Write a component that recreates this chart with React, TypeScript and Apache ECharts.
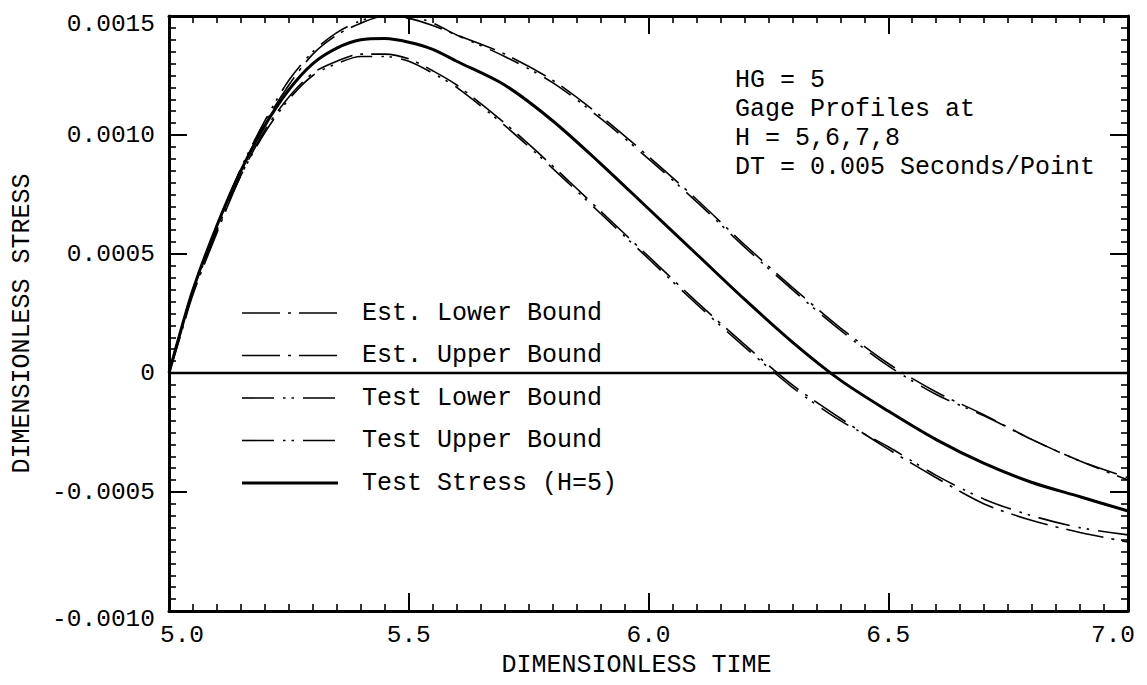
import React, { useEffect, useRef } from "react";
import * as echarts from "echarts";

const FONT = "'Liberation Mono', 'DejaVu Sans Mono', monospace";

// Dimensionless time sample points
const time = [
  5.0, 5.02, 5.05, 5.1, 5.15, 5.2, 5.25, 5.3, 5.35, 5.4, 5.45, 5.5, 5.55, 5.6,
  5.7, 5.8, 5.9, 6.0, 6.1, 6.2, 6.3, 6.4, 6.5, 6.6, 6.7, 6.8, 6.9, 7.0,
];

const estLowerBound = [
  0, 0.00013, 0.00033, 0.00059, 0.00083, 0.00102, 0.00116, 0.00126, 0.00131,
  0.00134, 0.00134, 0.00132, 0.00127, 0.00121, 0.00105, 0.00087, 0.00068,
  0.00049, 0.0003, 0.00012, -0.00005, -0.00019, -0.00032, -0.00044, -0.00055,
  -0.00062, -0.00067, -0.00071,
];

const estUpperBound = [
  0, 0.00014, 0.00034, 0.00061, 0.00085, 0.00105, 0.00121, 0.00134, 0.00142,
  0.00147, 0.0015, 0.00149, 0.00146, 0.00142, 0.00134, 0.00123, 0.00108,
  0.00091, 0.00073, 0.00054, 0.00036, 0.00019, 0.00004, -0.00008, -0.000176,
  -0.00028, -0.00037, -0.00045,
];

const testLowerBound = [
  0, 0.00014, 0.00034, 0.0006, 0.00083, 0.00101, 0.00115, 0.00125, 0.0013,
  0.00133, 0.00133, 0.00131, 0.00126, 0.0012, 0.00104, 0.00086, 0.00067,
  0.00048, 0.00029, 0.00011, -0.00006, -0.0002, -0.00031, -0.00043, -0.00053,
  -0.0006, -0.00065, -0.00068,
];

const testUpperBound = [
  0, 0.00015, 0.00035, 0.00062, 0.00086, 0.00106, 0.00123, 0.00135, 0.00143,
  0.00148, 0.0015, 0.0015, 0.00147, 0.00142, 0.00133, 0.00122, 0.00107,
  0.0009, 0.00072, 0.00053, 0.00035, 0.00018, 0.00003, -0.00009, -0.00018,
  -0.00028, -0.00037, -0.00044,
];

const testStress = [
  0, 0.000145, 0.00035, 0.00062, 0.00085, 0.00104, 0.00119, 0.0013, 0.001365,
  0.0014, 0.001405, 0.00139, 0.00136, 0.00131, 0.00121, 0.00106, 0.00088,
  0.00069, 0.0005, 0.00031, 0.00013, -0.00003, -0.00016, -0.00028, -0.00038,
  -0.00046, -0.00052, -0.00058,
];

// zero reference line
const zeroLine = [
  [5.0, 0],
  [7.0, 0],
];

const seriesNames = [
  "Est. Lower Bound",
  "Est. Upper Bound",
  "Test Lower Bound",
  "Test Upper Bound",
  "Test Stress (H=5)",
];

const annotationLines = [
  "HG = 5",
  "Gage Profiles at",
  "H = 5,6,7,8",
  "DT = 0.005 Seconds/Point",
];

const xTitle = "DIMENSIONLESS TIME";
const yTitle = "DIMENSIONLESS STRESS";

const X_MIN = 5;
const X_MAX = 7;
const X_STEP = 0.5;
const Y_MIN = -0.001;
const Y_MAX = 0.0015;
const Y_STEP = 0.0005;

const EST_DASH = [38, 8, 3, 8];
const TEST_DASH = [32, 9, 2.5, 6, 2.5, 9];

const pair = (vals: number[]) => time.map((t, i) => [t, vals[i]]);

const mkAxisLine = () => ({ show: true, onZero: false, lineStyle: { color: "#000", width: 3 } });
const mkAxisTick = () => ({
  show: true,
  inside: true,
  length: 18,
  lineStyle: { color: "#000", width: 2 },
});
const mkMinorTick = () => ({
  show: true,
  splitNumber: 10,
  length: 7,
  lineStyle: { color: "#000", width: 1.6 },
});

export default function App() {
  const ref = useRef<HTMLDivElement>(null);
  useEffect(() => {
    if (!ref.current) return;
    const chart = echarts.init(ref.current, undefined, { renderer: "svg" });

    const xBase = () => ({
      type: "value" as const,
      min: X_MIN,
      max: X_MAX,
      interval: X_STEP,
      axisLine: mkAxisLine(),
      axisTick: mkAxisTick(),
      minorTick: mkMinorTick(),
      splitLine: { show: false },
    });
    const yBase = () => ({
      type: "value" as const,
      min: Y_MIN,
      max: Y_MAX,
      interval: Y_STEP,
      axisLine: mkAxisLine(),
      axisTick: mkAxisTick(),
      minorTick: mkMinorTick(),
      splitLine: { show: false },
    });

    const dashes = [EST_DASH, EST_DASH, TEST_DASH, TEST_DASH, null];
    const widths = [1.6, 1.6, 1.6, 1.6, 3];
    const values = [estLowerBound, estUpperBound, testLowerBound, testUpperBound, testStress];

    const lineSeries = seriesNames.map((name, i) => ({
      name,
      type: "line",
      data: pair(values[i]),
      symbol: "none",
      smooth: 0.3,
      lineStyle: {
        color: "#000",
        width: widths[i],
        type: dashes[i] ? dashes[i] : "solid",
      },
    }));

    const legendGraphics: any[] = [];
    seriesNames.forEach((name, i) => {
      const cy = 313 + i * 42.5;
      legendGraphics.push({
        type: "line",
        shape: { x1: 242, y1: cy, x2: 338, y2: cy },
        style: {
          stroke: "#000",
          lineWidth: widths[i],
          lineDash: dashes[i] ? dashes[i] : null,
        },
        silent: true,
      });
      legendGraphics.push({
        type: "text",
        x: 362,
        y: cy,
        style: {
          text: name,
          font: `25px ${FONT}`,
          fill: "#000",
          verticalAlign: "middle",
        },
        silent: true,
      });
    });

    const labelText = { fontFamily: FONT, fontSize: 24.5, color: "#000" };

    chart.setOption({
      animation: false,
      grid: { left: 169, right: 19, top: 16, bottom: 74 },
      xAxis: [
        {
          ...xBase(),
          position: "bottom",
          name: xTitle,
          nameLocation: "middle",
          nameGap: 42,
          nameTextStyle: {
            fontFamily: FONT,
            fontSize: 25,
            color: "#000",
            padding: [0, 24, 0, 0],
          },
          axisLabel: {
            show: true,
            margin: 12,
            ...labelText,
            formatter: (v: number) => {
              const s = v.toFixed(1);
              if (v <= X_MIN) return "{lo|" + s + "}";
              if (v >= X_MAX) return "{hi|" + s + "}";
              return s;
            },
            rich: {
              lo: { ...labelText, padding: [0, 0, 0, 26] },
              hi: { ...labelText, padding: [0, 30, 0, 0] },
            },
          },
        },
        { ...xBase(), position: "top", axisLabel: { show: false } },
      ],
      yAxis: [
        {
          ...yBase(),
          position: "left",
          name: yTitle,
          nameLocation: "middle",
          nameGap: 134,
          nameTextStyle: {
            fontFamily: FONT,
            fontSize: 25,
            color: "#000",
            padding: [0, 20, 0, 0],
          },
          axisLabel: {
            show: true,
            margin: 14,
            ...labelText,
            formatter: (v: number) => {
              const r = Math.round(v * 10000) / 10000;
              const s = r === 0 ? "0" : r.toFixed(4);
              if (r <= Y_MIN || r >= Y_MAX) return "{edge|" + s + "}";
              return s;
            },
            rich: {
              edge: { ...labelText, padding: [16, 0, 0, 0] },
            },
          },
        },
        { ...yBase(), position: "right", axisLabel: { show: false } },
      ],
      graphic: [
        {
          type: "text",
          left: 735,
          top: 65.5,
          style: {
            text: annotationLines.join("\n"),
            font: `25px ${FONT}`,
            lineHeight: 29,
            fill: "#000",
          },
        },
        ...legendGraphics,
      ],
      series: [
        {
          name: "zero",
          type: "line",
          data: zeroLine,
          symbol: "none",
          silent: true,
          lineStyle: { color: "#000", width: 2.5 },
        },
        ...lineSeries,
      ],
    });
    return () => chart.dispose();
  }, []);
  return (
    <div
      ref={ref}
      style={{ position: "fixed", left: 0, top: 0, width: 1147, height: 685, background: "#fff" }}
    />
  );
}
